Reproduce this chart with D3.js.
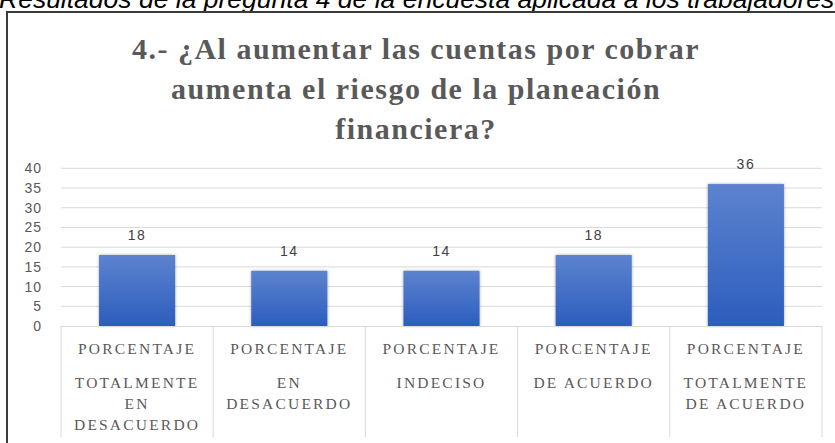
<!DOCTYPE html>
<html><head><meta charset="utf-8">
<script src="https://cdn.jsdelivr.net/npm/d3@7/dist/d3.min.js"></script>
<style>html,body{margin:0;padding:0;background:#fff;overflow:hidden}</style>
</head><body>
<svg id="c" width="835" height="443"></svg>
<script>
const caption = "Resultados de la pregunta 4 de la encuesta aplicada a los trabajadores";
const titleLines = ["4.- ¿Al aumentar las cuentas por cobrar", "aumenta el riesgo de la planeación", "financiera?"];
const groupLabel = "PORCENTAJE";
const categories = [
  ["TOTALMENTE", "EN", "DESACUERDO"],
  ["EN", "DESACUERDO"],
  ["INDECISO"],
  ["DE ACUERDO"],
  ["TOTALMENTE", "DE ACUERDO"]
];
const values = [18, 14, 14, 18, 36];
const yTicks = [0, 5, 10, 15, 20, 25, 30, 35, 40];

(function () {
const svg = d3.select("#c");
const pl = 61, pr = 822, pt = 168.3, pb = 326, catBottom = 437;

// caption (clipped at top, as in the reference)
svg.append("text").attr("x", -1).attr("y", 8)
  .attr("font-family", "Liberation Sans, Arial, sans-serif").attr("font-style", "italic")
  .attr("font-size", 26.5).attr("fill", "#000").text(caption);

// outer frame
svg.append("path").attr("d", `M7,443 L7,12 L835,12`).attr("fill", "none")
  .attr("stroke", "#3a3a3a").attr("stroke-width", 2);

// title
const t = svg.append("text").attr("text-anchor", "middle")
  .attr("font-family", "Liberation Serif, 'Times New Roman', serif").attr("font-weight", "bold")
  .attr("font-size", 30).attr("letter-spacing", 1.5).attr("fill", "#595959");
titleLines.forEach((l, i) => t.append("tspan").attr("x", 416).attr("y", 59 + i * 40).text(l));

const idx = categories.map((d, i) => i);
const x = d3.scaleBand().domain(idx).range([pl, pr]).paddingInner(0).paddingOuter(0);
const y = d3.scaleLinear().domain([0, 40]).range([pb, pt]);

// grid
svg.append("g").selectAll("line").data(yTicks.filter(d => d > 0)).join("line")
  .attr("x1", pl).attr("x2", pr).attr("y1", d => y(d)).attr("y2", d => y(d))
  .attr("stroke", "#d9d9d9").attr("stroke-width", 1);

// y axis labels
const yAxis = d3.axisLeft(y).tickValues(yTicks).tickSize(0).tickPadding(0);
const ga = svg.append("g").attr("transform", "translate(42,0)").call(yAxis);
ga.select(".domain").remove();
ga.selectAll("text").attr("font-family", "Liberation Sans, Arial, sans-serif")
  .attr("font-size", 14).attr("fill", "#595959").attr("letter-spacing", 1);

// gradient
const defs = svg.append("defs");
const grad = defs.append("linearGradient").attr("id", "bg").attr("x1", 0).attr("y1", 0).attr("x2", 0).attr("y2", 1);
grad.append("stop").attr("offset", "0%").attr("stop-color", "#5c83cf");
grad.append("stop").attr("offset", "100%").attr("stop-color", "#2c5dbd");
const f = defs.append("filter").attr("id", "sh").attr("x", "-20%").attr("y", "-20%").attr("width", "140%").attr("height", "140%");
f.append("feDropShadow").attr("dx", 0).attr("dy", 0).attr("stdDeviation", 1.5).attr("flood-color", "#000").attr("flood-opacity", 0.35);

const bw = x.bandwidth() * 0.5;
svg.append("g").selectAll("rect").data(values).join("rect")
  .attr("x", (d, i) => x(i) + (x.bandwidth() - bw) / 2).attr("width", bw)
  .attr("y", d => y(d)).attr("height", d => pb - y(d))
  .attr("fill", "url(#bg)").attr("filter", "url(#sh)");

// data labels
svg.append("g").selectAll("text").data(values).join("text")
  .attr("x", (d, i) => x(i) + x.bandwidth() / 2).attr("y", d => y(d) - 15)
  .attr("text-anchor", "middle").attr("font-family", "Liberation Sans, Arial, sans-serif")
  .attr("font-size", 14).attr("letter-spacing", 1.5).attr("fill", "#404040").text(d => d);

// category axis lines
svg.append("line").attr("x1", pl).attr("x2", pr).attr("y1", pb + 0.5).attr("y2", pb + 0.5)
  .attr("stroke", "#d9d9d9");
const divs = idx.map(i => x(i)).concat([pr]);
svg.append("g").selectAll("line").data(divs).join("line")
  .attr("x1", d => d).attr("x2", d => d).attr("y1", pb).attr("y2", catBottom)
  .attr("stroke", "#d9d9d9");

// category labels
const cg = svg.append("g").attr("font-family", "Liberation Serif, 'Times New Roman', serif")
  .attr("font-size", 15.5).attr("fill", "#595959").attr("letter-spacing", 2.2).attr("text-anchor", "middle");
categories.forEach((lines, i) => {
  const cx = x(i) + x.bandwidth() / 2;
  cg.append("text").attr("x", cx).attr("y", 354).text(groupLabel);
  lines.forEach((l, j) => cg.append("text").attr("x", cx).attr("y", 388 + j * 21).text(l));
});
})();
</script>
</body></html>
